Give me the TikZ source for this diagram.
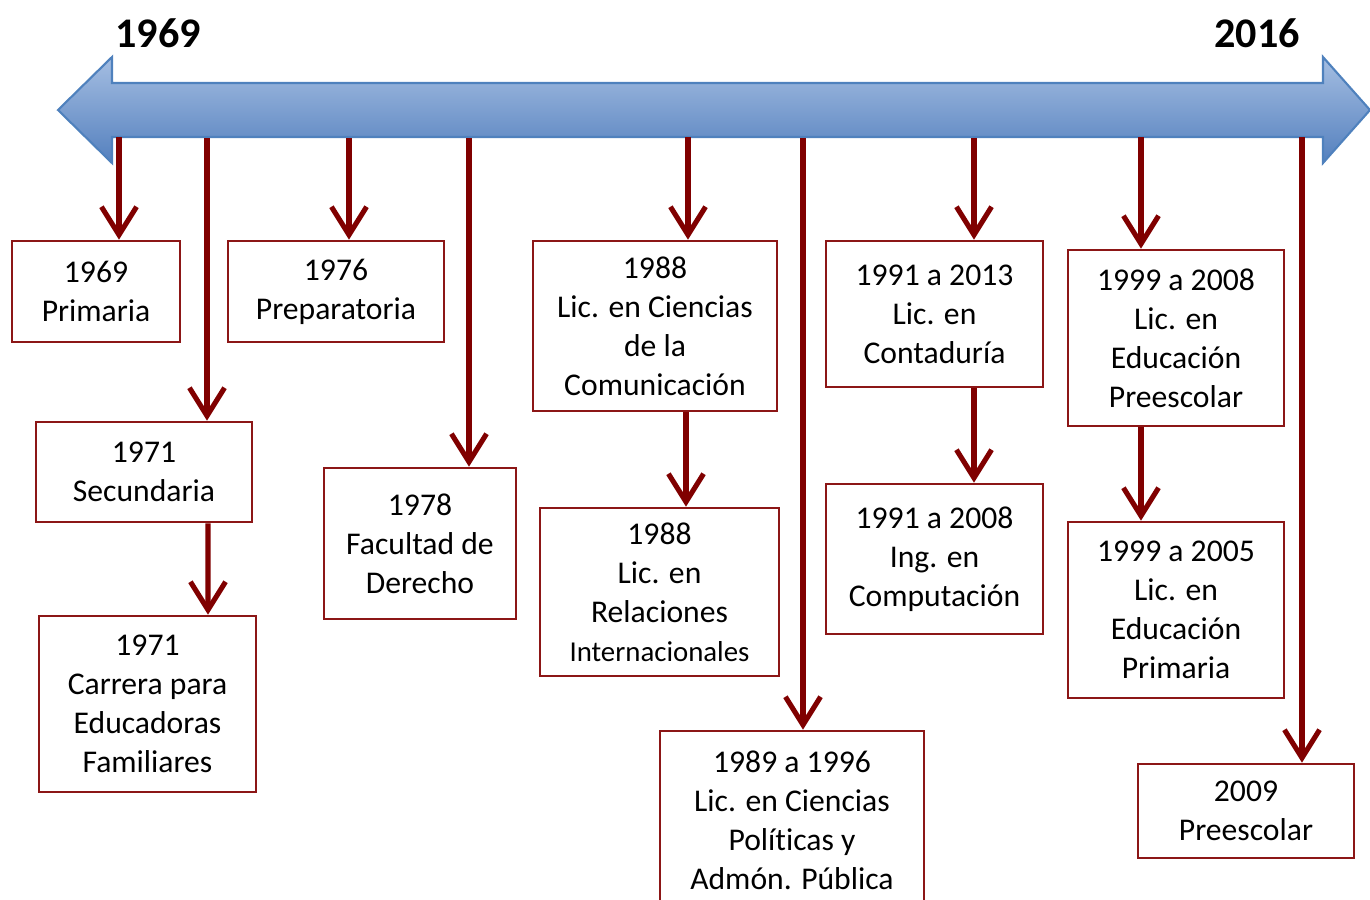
\documentclass[tikz,border=0pt]{standalone}
\usepackage{fontspec}
\setmainfont[Ligatures=NoCommon]{Carlito}
\usepackage{tikz}
\usetikzlibrary{positioning,arrows.meta,calc}
\definecolor{tlblueTop}{RGB}{165,190,226}
\definecolor{tlblueBot}{RGB}{84,128,190}
\definecolor{tlblueLine}{RGB}{79,129,189}
\definecolor{tlred}{RGB}{128,0,0}
\definecolor{tlboxred}{RGB}{140,22,22}
\tikzset{
  tlbox/.style={draw=tlboxred, line width=0.75pt, fill=white, align=center,
                inner sep=0pt, font=\fontsize{9}{11.1}\selectfont},
  tlyear/.style={font=\fontsize{12}{14}\selectfont\bfseries, inner sep=0pt},
  tlarrow/.style={draw=tlred, line width=1.45pt,
                  -{Straight Barb[length=8pt,width=10pt]}},
}

\begin{document}
\begin{tikzpicture}
  \useasboundingbox (0,0) rectangle (13.7,-9);
  % timeline
  \shade[top color=tlblueTop, bottom color=tlblueBot, draw=tlblueLine, line width=0.6pt]
    (0.58,-1.10) -- (1.12,-0.57) -- (1.12,-0.83) -- (13.23,-0.83) -- (13.23,-0.57)
    -- (13.70,-1.10) -- (13.23,-1.63) -- (13.23,-1.37) -- (1.12,-1.37) -- (1.12,-1.63) -- cycle;
  \node[tlyear] (y1969) at (1.58,-0.33) {1969};
  \node[tlyear] (y2016) at (12.57,-0.33) {2016};
  % boxes
  \node[tlbox, minimum width=1.68cm, minimum height=1.01cm] (prim) at (0.96,-2.915) {1969\\Primaria};
  \node[tlbox, minimum width=2.16cm, minimum height=1.01cm] (prepa) at (3.36,-2.915) {1976\\Preparatoria};
  \node[tlbox, minimum width=2.16cm, minimum height=1.00cm] (secu) at (1.44,-4.72) {1971\\Secundaria};
  \node[tlbox, minimum width=2.17cm, minimum height=1.76cm] (educ) at (1.475,-7.04) {1971\\Carrera para\\Educadoras\\Familiares};
  \node[tlbox, minimum width=1.92cm, minimum height=1.51cm] (dere) at (4.20,-5.435) {1978\\Facultad de\\Derecho};
  \node[tlbox, minimum width=2.44cm, minimum height=1.70cm] (comu) at (6.55,-3.26) {1988\\Lic. en Ciencias\\de la\\Comunicación};
  \node[tlbox, minimum width=2.39cm, minimum height=1.68cm] (rela) at (6.595,-5.92) {1988\\Lic. en\\Relaciones\\{\fontsize{8.2}{10.5}\selectfont Internacionales}};
  \node[tlbox, minimum width=2.64cm, minimum height=1.78cm] (poli) at (7.92,-8.20) {1989 a 1996\\Lic. en Ciencias\\Políticas y\\Admón. Pública};
  \node[tlbox, minimum width=2.17cm, minimum height=1.46cm] (conta) at (9.345,-3.14) {1991 a 2013\\Lic. en\\Contaduría};
  \node[tlbox, minimum width=2.17cm, minimum height=1.50cm] (compu) at (9.345,-5.59) {1991 a 2008\\Ing. en\\Computación};
  \node[tlbox, minimum width=2.16cm, minimum height=1.76cm] (edpre) at (11.76,-3.38) {1999 a 2008\\Lic. en\\Educación\\Preescolar};
  \node[tlbox, minimum width=2.16cm, minimum height=1.76cm] (edpri) at (11.76,-6.10) {1999 a 2005\\Lic. en\\Educación\\Primaria};
  \node[tlbox, minimum width=2.16cm, minimum height=0.94cm] (presc) at (12.46,-8.11) {2009\\Preescolar};
  % points on the timeline
  \coordinate (t1) at (1.19,-1.37);
  \coordinate (t2) at (2.07,-1.38);
  \coordinate (t3) at (3.49,-1.38);
  \coordinate (t4) at (4.69,-1.38);
  \coordinate (t5) at (6.88,-1.37);
  \coordinate (t6) at (8.03,-1.38);
  \coordinate (t7) at (9.74,-1.38);
  \coordinate (t8) at (11.41,-1.37);
  \coordinate (t9) at (13.02,-1.37);
  % arrows
  \draw[tlarrow] (t1) -- (t1 |- prim.north);
  \draw[tlarrow] (t2) -- (t2 |- secu.north);
  \draw[tlarrow] (t3) -- (t3 |- prepa.north);
  \draw[tlarrow] (t4) -- (t4 |- dere.north);
  \draw[tlarrow] (t5) -- (t5 |- comu.north);
  \draw[tlarrow] (t6) -- (t6 |- poli.north);
  \draw[tlarrow] (t7) -- (t7 |- conta.north);
  \draw[tlarrow] (t8) -- (t8 |- edpre.north);
  \draw[tlarrow] (t9) -- (t9 |- presc.north);
  \draw[tlarrow] ($(secu.south)+(0.64,0)$) -- ($(educ.north)+(0.605,0)$);
  \draw[tlarrow] ($(comu.south)+(0.31,0)$) -- ($(rela.north)+(0.265,0)$);
  \draw[tlarrow] ($(conta.south)+(0.395,0)$) -- ($(compu.north)+(0.395,0)$);
  \draw[tlarrow] ($(edpre.south)+(-0.35,0)$) -- ($(edpri.north)+(-0.35,0)$);
\end{tikzpicture}
\end{document}
